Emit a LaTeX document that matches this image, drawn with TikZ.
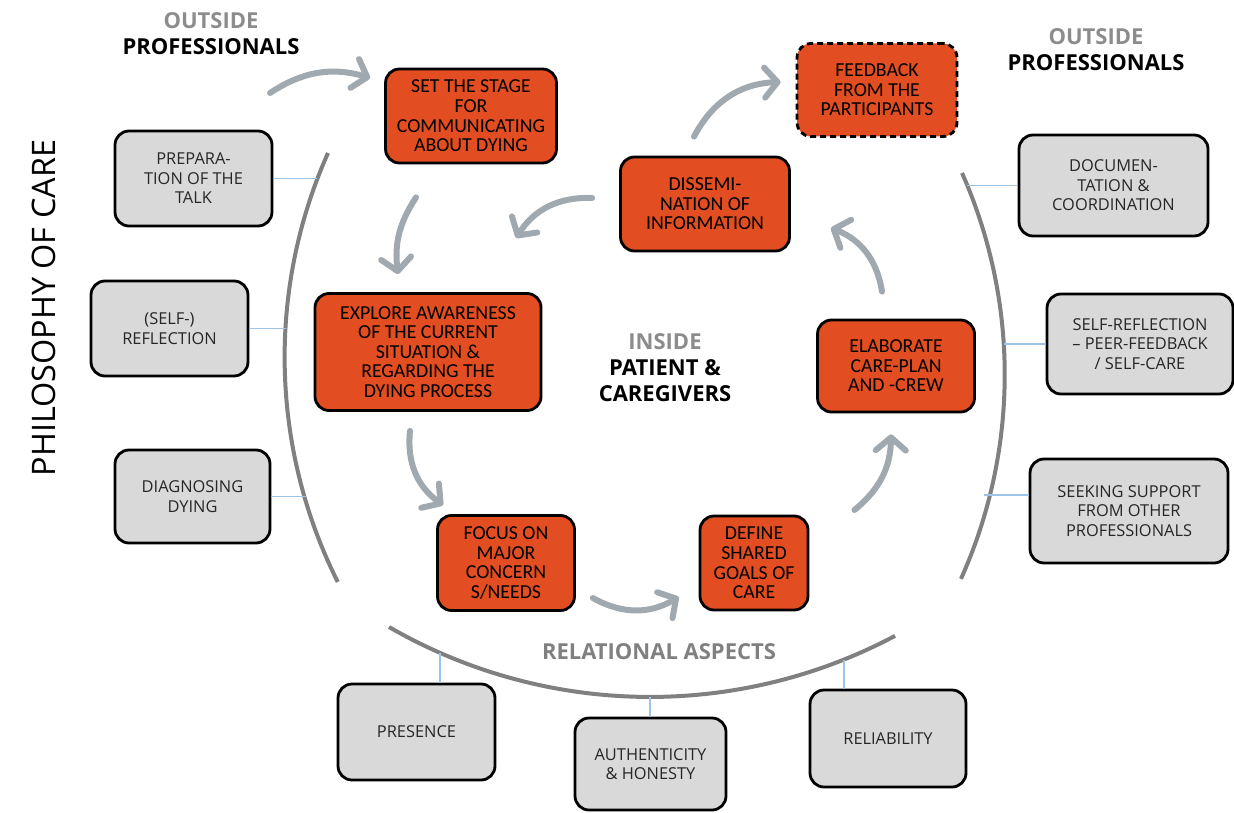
\documentclass[tikz,border=0pt]{standalone}
\usepackage{fontspec}
\setmainfont{Open Sans}
\newfontfamily\stepfont{Carlito}
\usetikzlibrary{arrows.meta}
\definecolor{careorange}{RGB}{226,78,34}
\definecolor{boxgray}{RGB}{217,217,217}
\definecolor{flowgray}{RGB}{160,168,176}
\definecolor{ringgray}{RGB}{128,128,128}
\definecolor{linkblue}{RGB}{157,195,230}
\definecolor{headgray}{RGB}{140,140,140}
\tikzset{
	outer box/.style={draw, line width=1.4pt, rounded corners=7pt, fill=boxgray, align=center, text=black!85, font=\fontsize{8.2}{9.8}\selectfont},
	step box/.style={draw, line width=1.4pt, rounded corners=7pt, fill=careorange, align=center, text=black, font=\stepfont\fontsize{9.9}{9.8}\selectfont},
	flow/.style={flowgray, line width=3pt, line cap=round, -{Straight Barb[length=6.5pt,width=15pt,round]}},
	ring/.style={ringgray, line width=2pt},
	link/.style={linkblue, line width=0.6pt},
	heading/.style={align=center, font=\bfseries\fontsize{11}{13}\selectfont}
}

\begin{document}
\begin{tikzpicture}[x=0.5pt, y=-0.5pt]
	\useasboundingbox (0,0) rectangle (1234,812);

	% rings
	\draw[ring] (328,153) arc[start angle=204, end angle=153.4, radius=502];
	\draw[ring] (962,173) arc[start angle=-23.9, end angle=24.2, radius=498];
	\draw[ring] (389,627) arc[start angle=120, end angle=62, radius=522];

	\node[heading] at (211,34) (outside-left) {\textcolor{headgray}{OUTSIDE}\\PROFESSIONALS};
	\node[heading] at (1096,50) (outside-right) {\textcolor{headgray}{OUTSIDE}\\PROFESSIONALS};
	\node[heading] at (665,368) (inside) {\textcolor{headgray}{INSIDE}\\PATIENT \&\\CAREGIVERS};
	\node[heading, text=ringgray] at (659,652) (relational) {RELATIONAL ASPECTS};
	\node[rotate=90, font=\fontsize{16.2}{18}\selectfont] at (44,308) (philosophy) {PHILOSOPHY OF CARE};

	% steps
	\node[step box, minimum width=85.5pt, minimum height=47pt] at (471,116) (set-stage) {SET THE STAGE\\FOR\\COMMUNICATING\\ABOUT DYING};
	\node[step box, dash pattern=on 3pt off 2pt, minimum width=80pt, minimum height=46.5pt] at (877,90) (feedback) {FEEDBACK\\FROM THE\\PARTICIPANTS};
	\node[step box, minimum width=84.5pt, minimum height=47pt] at (705,204) (dissemination) {DISSEMI-\\NATION OF\\INFORMATION};
	\node[step box, minimum width=113pt, minimum height=58.5pt] at (428,352) (explore) {EXPLORE AWARENESS\\OF THE CURRENT\\SITUATION \&\\REGARDING THE\\DYING PROCESS};
	\node[step box, minimum width=78.5pt, minimum height=46pt] at (896,366) (elaborate) {ELABORATE\\CARE-PLAN\\AND -CREW};
	\node[step box, minimum width=68.5pt, minimum height=47.5pt] at (506,563) (focus) {FOCUS ON\\MAJOR\\CONCERN\\S/NEEDS};
	\node[step box, minimum width=54pt, minimum height=47pt] at (754,563) (define-goals) {DEFINE\\SHARED\\GOALS OF\\CARE};

	% outside
	\node[outer box, minimum width=78.5pt, minimum height=47.5pt] at (193.5,178.5) (prep-talk) {PREPARA-\\TION OF THE\\TALK};
	\node[outer box, minimum width=78.5pt, minimum height=47.5pt] at (169.5,328.5) (self-reflection) {(SELF-)\\REFLECTION};
	\node[outer box, minimum width=77.5pt, minimum height=46.5pt] at (192.5,496.5) (diagnosing) {DIAGNOSING\\DYING};
	\node[outer box, minimum width=94.5pt, minimum height=50.5pt] at (1113.5,185.5) (documentation) {DOCUMEN-\\TATION \&\\COORDINATION};
	\node[outer box, minimum width=93pt, minimum height=50pt] at (1140,344) (peer-feedback) {SELF-REFLECTION\\– PEER-FEEDBACK\\/ SELF-CARE};
	\node[outer box, minimum width=99pt, minimum height=52pt] at (1129,511) (support) {SEEKING SUPPORT\\FROM OTHER\\PROFESSIONALS};
	\node[outer box, minimum width=78.5pt, minimum height=48pt] at (416.5,732) (presence) {PRESENCE};
	\node[outer box, minimum width=75.5pt, minimum height=46pt] at (650.5,764) (authenticity) {AUTHENTICITY\\\& HONESTY};
	\node[outer box, minimum width=78pt, minimum height=48.5pt] at (888,738.5) (reliability) {RELIABILITY};

	% links to the rings
	\coordinate (prep-end) at (317,179);
	\coordinate (refl-end) at (286,329);
	\coordinate (diag-end) at (306,497);
	\coordinate (docu-end) at (967,185);
	\coordinate (peer-end) at (1004,343);
	\coordinate (supp-end) at (984,519);
	\coordinate (pres-end) at (440,653);
	\coordinate (auth-end) at (650,697);
	\coordinate (reli-end) at (844,660);
	\draw[link] (prep-talk.east) -- (prep-talk.east -| prep-end);
	\draw[link] (self-reflection.east) -- (self-reflection.east -| refl-end);
	\draw[link] (diagnosing.east) -- (diagnosing.east -| diag-end);
	\draw[link] (documentation.west) -- (documentation.west -| docu-end);
	\draw[link] (peer-feedback.west) -- (peer-feedback.west -| peer-end);
	\draw[link] ([yshift=8]support.west) -- ([yshift=8]support.west -| supp-end);
	\draw[link] (pres-end) -- (pres-end |- presence.north);
	\draw[link] (auth-end) -- (auth-end |- authenticity.north);
	\draw[link] (reli-end) -- (reli-end |- reliability.north);

	% cycle
	\coordinate (enter-left) at (270,93);
	\draw[flow] (enter-left) to[bend left=25] ([shift={(-14,-38)}]set-stage.west);
	\draw[flow] ([shift={(-55,33)}]set-stage.south) to[bend right=20] ([shift={(-30,-18)}]explore.north);
	\draw[flow] ([shift={(-18,19)}]explore.south) to[bend right=30] ([shift={(-63,-9)}]focus.north);
	\draw[flow] ([shift={(17,35)}]focus.east) to[bend right=30] ([shift={(-20,34)}]define-goals.west);
	\draw[flow] ([shift={(45,-53)}]define-goals.east) to[bend right=25] ([shift={(-5,21)}]elaborate.south);
	\draw[flow] ([shift={(-14,-27)}]elaborate.north) to[bend right=30] ([shift={(40,24)}]dissemination.east);
	\draw[flow] ([shift={(-27,-6)}]dissemination.west) to[bend right=30] ([shift={(-103,34)}]dissemination.west);
	\draw[flow] ([shift={(-11,-19)}]dissemination.north) to[bend left=30] ([shift={(-15,-8)}]feedback.west);
\end{tikzpicture}
\end{document}
